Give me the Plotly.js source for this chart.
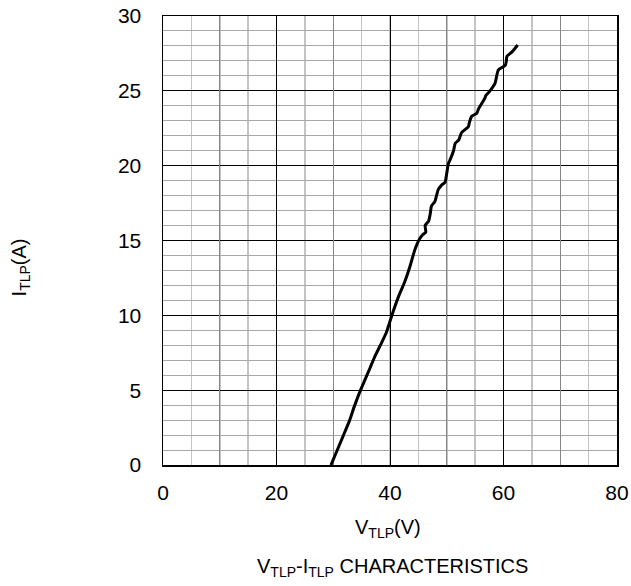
<!DOCTYPE html>
<html>
<head>
<meta charset="utf-8">
<script src="https://cdn.plot.ly/plotly-3.0.1.min.js"></script>
<style>html,body{margin:0;padding:0;background:#fff;}#chart{width:631px;height:586px;}</style>
</head>
<body>
<div id="chart"></div>
<script>
const vTLP = [29.6, 30.6, 31.7, 32.9, 33.7, 34.7, 35.6, 36.5, 37.4, 38.3, 39.3, 40.0, 40.6, 41.5, 42.6, 43.5, 44.4, 45.2, 45.8, 46.3, 46.2, 46.8, 47.1, 47.3, 47.9, 48.2, 48.5, 49.1, 49.7, 50.0, 50.3, 50.6, 51.2, 51.5, 52.1, 52.6, 53.8, 54.0, 54.4, 55.3, 55.6, 56.7, 56.9, 57.4, 58.5, 59.1, 60.3, 60.5, 60.6, 61.5, 62.5];
const iTLP = [0.0, 0.9, 1.9, 3.0, 3.9, 4.9, 5.7, 6.5, 7.3, 8.0, 8.8, 9.6, 10.3, 11.25, 12.25, 13.25, 14.4, 15.1, 15.4, 15.55, 16.0, 16.3, 16.8, 17.3, 17.6, 18.0, 18.4, 18.7, 18.9, 19.5, 20.15, 20.4, 21.0, 21.5, 21.7, 22.2, 22.6, 22.9, 23.3, 23.5, 23.8, 24.5, 24.7, 24.9, 25.5, 26.4, 26.7, 27.0, 27.3, 27.6, 28.06];

const xTickVals = [0, 20, 40, 60, 80];
const xMidGrid = [10, 30, 50, 70];
const yTickVals = [0, 5, 10, 15, 20, 25, 30];

const xTitle = 'V<sub>TLP</sub>(V)';
const yTitle = 'I<sub>TLP</sub>(A)';
const subTitle = 'V<sub>TLP</sub>-I<sub>TLP</sub> CHARACTERISTICS';

const font = {family: 'Liberation Sans, Arial, sans-serif', size: 20, color: '#000'};
const tickFont = {family: 'Liberation Sans, Arial, sans-serif', size: 21, color: '#000'};

const data = [
  {x: [], y: [], xaxis: 'x2', yaxis: 'y', showlegend: false, hoverinfo: 'skip'},
  {x: vTLP, y: iTLP, type: 'scatter', mode: 'lines', line: {color: '#000', width: 3, shape: 'spline', smoothing: 0.6}, showlegend: false}
];

const layout = {
  width: 631, height: 586,
  margin: {l: 163, r: 14, t: 16, b: 121},
  paper_bgcolor: '#fff', plot_bgcolor: '#fff',
  font: font,
  xaxis: {
    range: [0, 80], tickvals: xTickVals, ticks: '', showgrid: true, gridcolor: '#000', gridwidth: 1,
    minor: {dtick: 5, showgrid: true, gridcolor: '#c4c4c4', gridwidth: 1.5},
    showline: true, linecolor: '#000', linewidth: 1.5, mirror: true, zeroline: false,
    tickfont: tickFont, ticklabelstandoff: 8
  },
  xaxis2: {
    range: [0, 80], overlaying: 'x', tickvals: xMidGrid, showticklabels: false, ticks: '',
    showgrid: true, gridcolor: '#858585', gridwidth: 1.2, zeroline: false, showline: false
  },
  yaxis: {
    range: [0, 30], tickvals: yTickVals, ticks: 'outside', ticklen: 16, tickcolor: 'rgba(0,0,0,0)',
    showgrid: true, gridcolor: '#000', gridwidth: 1,
    minor: {dtick: 1, showgrid: true, gridcolor: '#a8a8a8', gridwidth: 1},
    showline: true, linecolor: '#000', linewidth: 1.5, mirror: true, zeroline: false,
    tickfont: tickFont
  },
  annotations: [
    {text: xTitle, xref: 'paper', yref: 'paper', x: 0.495, y: -0.142, showarrow: false, font: font, xanchor: 'center', yanchor: 'middle'},
    {text: subTitle, xref: 'paper', yref: 'paper', x: 0.505, y: -0.229, showarrow: false, font: font, xanchor: 'center', yanchor: 'middle'},
    {text: yTitle, xref: 'paper', yref: 'paper', x: -0.315, y: 0.44, showarrow: false, font: font, textangle: -90, xanchor: 'center', yanchor: 'middle'}
  ]
};

Plotly.newPlot('chart', data, layout, {displayModeBar: false, staticPlot: true});
</script>
</body>
</html>
